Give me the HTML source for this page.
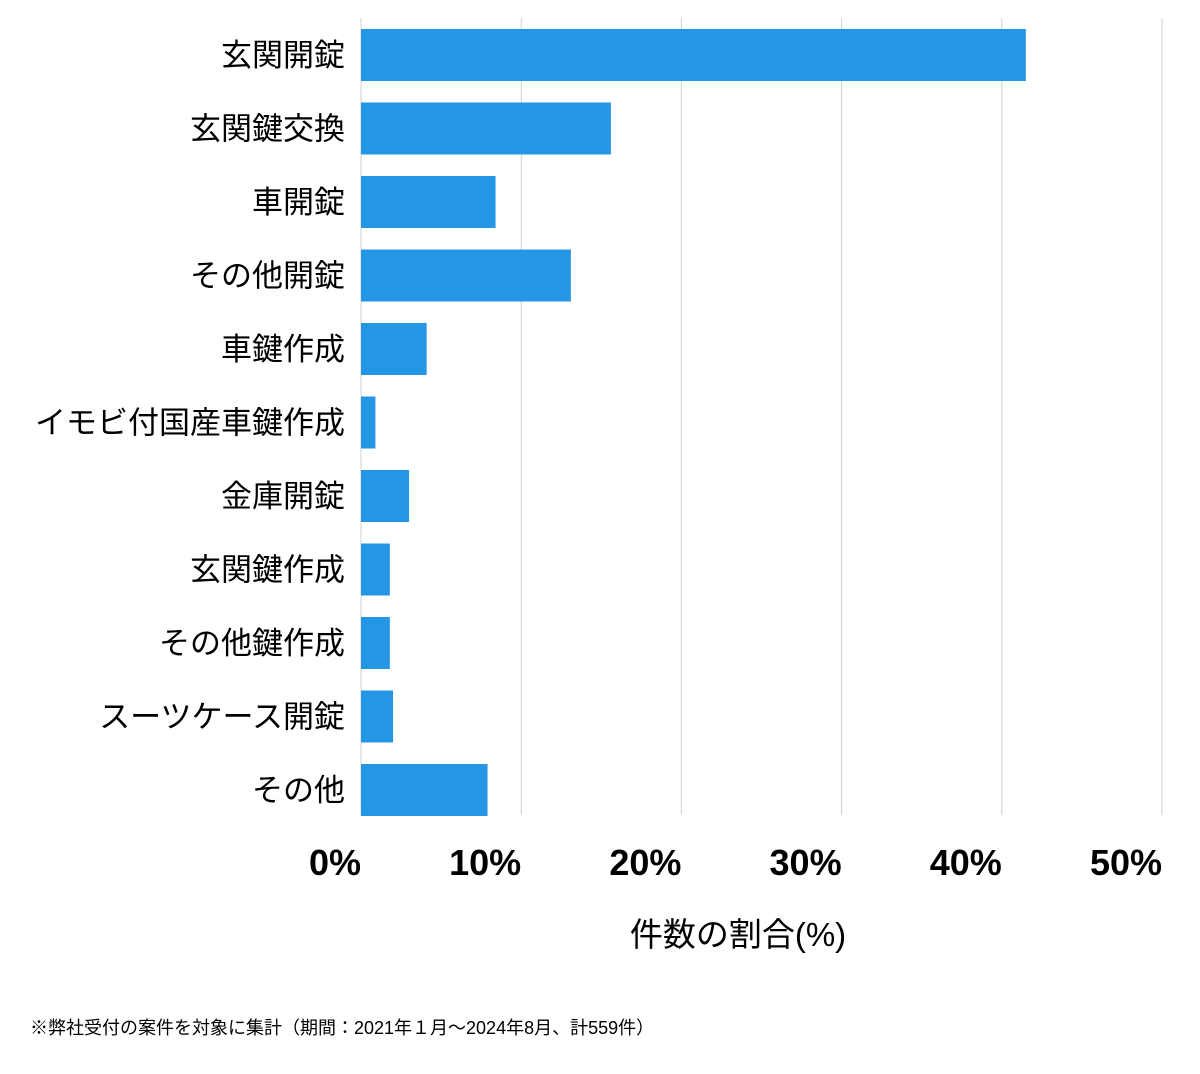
<!DOCTYPE html>
<html><head><meta charset="utf-8">
<style>
html,body{margin:0;padding:0;background:#fff;}
body{width:1200px;height:1069px;overflow:hidden;font-family:"Liberation Sans","Noto Sans CJK JP",sans-serif;}
</style></head>
<body>
<svg id="chart" width="1200" height="1069" xmlns="http://www.w3.org/2000/svg"></svg>
<script>
const categories = ["玄関開錠","玄関鍵交換","車開錠","その他開錠","車鍵作成","イモビ付国産車鍵作成","金庫開錠","玄関鍵作成","その他鍵作成","スーツケース開錠","その他"];
const values = [41.5,15.6,8.4,13.1,4.1,0.9,3.0,1.8,1.8,2.0,7.9];
const tickValues = [0,10,20,30,40,50];
const tickLabels = ["0%","10%","20%","30%","40%","50%"];

const NS="http://www.w3.org/2000/svg";
const svg=document.getElementById('chart');
const x0=361,x1=1162,xmax=50;
const xs=v=>x0+(v/xmax)*(x1-x0);
const barTop0=29,step=73.5,barH=52;
const ys=i=>barTop0+i*step;
function mk(tag,attrs,text){const e=document.createElementNS(NS,tag);for(const k in attrs)e.setAttribute(k,attrs[k]);if(text!==undefined)e.textContent=text;svg.appendChild(e);return e;}
const font='"Liberation Sans","Noto Sans CJK JP",sans-serif';

tickValues.forEach((t,i)=>{
  const g=mk('line',{x1:xs(t),x2:xs(t),y1:18,y2:815,stroke:'#d0d0d0','stroke-width':1});
  
  
  const l=mk('text',{x:xs(t),y:875,'text-anchor':'end','font-size':36,'font-weight':'bold','font-family':font,fill:'#000'},tickLabels[i]);
  
  
});

categories.forEach((c,i)=>{
  const r=mk('rect',{x:xs(0),y:ys(i),width:xs(values[i])-xs(0),height:barH,fill:'#2596e6'});
  
  
  const t=mk('text',{x:345,y:ys(i)+barH/2+11,'text-anchor':'end','font-size':31,'font-family':font,fill:'#000'},c);
  
  
});

const at=mk('text',{x:738,y:946,'text-anchor':'middle','font-size':33,'font-family':font,fill:'#000'},'件数の割合(%)');



const fn=mk('text',{x:30,y:1034,'font-size':18,'font-family':font,fill:'#000'},'※弊社受付の案件を対象に集計（期間：2021年１月〜2024年8月、計559件）');


</script>
</body></html>
